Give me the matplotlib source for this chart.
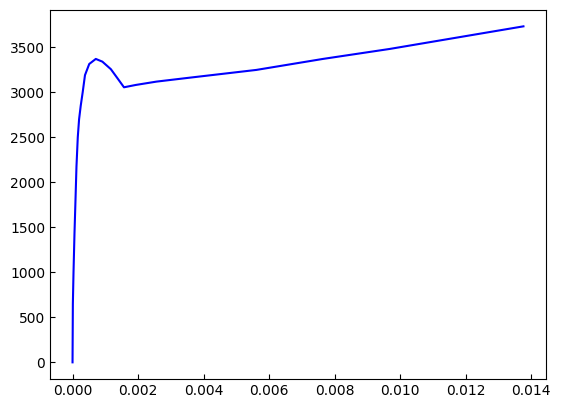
import matplotlib
matplotlib.use("Agg")
import matplotlib.pyplot as plt

strain = [0.0, 0.00001, 0.00003, 0.00006, 0.00009, 0.00012, 0.00016, 0.0002,
          0.00025, 0.00031, 0.00038, 0.00051, 0.00071, 0.00091, 0.00117,
          0.00137, 0.00157, 0.00193, 0.00256, 0.00358, 0.00561, 0.00764,
          0.00968, 0.01376]
stress = [0, 650, 1000, 1437, 1800, 2173, 2500, 2700,
          2850, 3000, 3190, 3314, 3370, 3340, 3256,
          3156, 3055, 3081, 3118, 3162, 3248, 3370,
          3481, 3732]

fig, ax = plt.subplots(figsize=(6.4, 4.8), dpi=100)
ax.plot(strain, stress, color="blue", linewidth=1.5)
ax.tick_params(direction="in")
fig.savefig("out.png", bbox_inches="tight")
